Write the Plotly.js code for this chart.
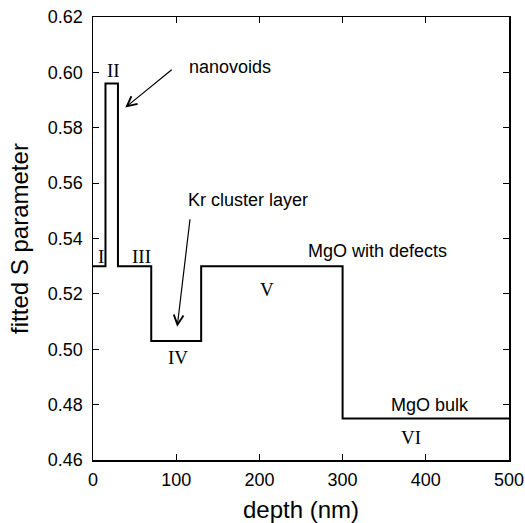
<!DOCTYPE html>
<html>
<head>
<meta charset="utf-8">
<script src="https://cdn.plot.ly/plotly-3.0.1.min.js"></script>
<style>html,body{margin:0;padding:0;background:#fff;}#chart{width:525px;height:523px;}</style>
</head>
<body>
<div id="chart"></div>
<script>
// Layer boundaries (depth, nm) and fitted S parameter per layer
const layerEdges = [0, 15, 30, 70, 130, 300, 500];
const layerS = [0.530, 0.596, 0.530, 0.503, 0.530, 0.475];
const layerNames = ["I", "II", "III", "IV", "V", "VI"];
const layerLabelX = [9.6, 24.4, 58, 102.4, 209, 382];
const layerLabelY = [0.5334, 0.6007, 0.5334, 0.4969, 0.5215, 0.4683];
const noteTexts = ["nanovoids", "Kr cluster layer", "MgO with defects", "MgO bulk"];
const noteX = [164.8, 185.8, 342.2, 404.8];
const noteY = [0.6021, 0.5540, 0.5356, 0.4799];
const arrowTail = [[96.4, 0.6014], [116.8, 0.5475]];
const arrowHead = [[38.8, 0.5873], [101.2, 0.5081]];
const xTicks = [0, 100, 200, 300, 400, 500];
const yTicks = [0.46, 0.48, 0.50, 0.52, 0.54, 0.56, 0.58, 0.60, 0.62];

const stepY = layerS.concat([layerS[layerS.length - 1]]);

const trace = {
  x: layerEdges,
  y: stepY,
  type: 'scatter',
  mode: 'lines',
  line: {shape: 'hv', color: '#000', width: 2},
  hoverinfo: 'skip'
};

const sans = 'Liberation Sans, Arial, sans-serif';
const serif = 'Liberation Serif, Times New Roman, serif';
const annotations = [];
layerNames.forEach((t, i) => annotations.push({
  x: layerLabelX[i], y: layerLabelY[i], xref: 'x', yref: 'y', text: t,
  showarrow: false, font: {family: serif, size: 19, color: '#000'}
}));
noteTexts.forEach((t, i) => annotations.push({
  x: noteX[i], y: noteY[i], xref: 'x', yref: 'y', text: t,
  showarrow: false, font: {family: sans, size: 18, color: '#000'}
}));
arrowHead.forEach((h, i) => annotations.push({
  x: h[0], y: h[1], xref: 'x', yref: 'y', text: '',
  ax: arrowTail[i][0], ay: arrowTail[i][1], axref: 'x', ayref: 'y',
  showarrow: true, arrowhead: 5, arrowsize: 1.6, arrowwidth: 1.2, arrowcolor: '#000', standoff: 0
}));

const axisCommon = {
  showgrid: false, zeroline: false, showline: true, linecolor: '#000', linewidth: 1.5,
  mirror: 'ticks', ticks: 'inside', ticklen: 6, tickwidth: 1.2, tickcolor: '#000',
  tickfont: {family: sans, size: 18, color: '#000'}
};

const layout = {
  width: 525, height: 523,
  margin: {l: 93, r: 16, t: 17, b: 63},
  paper_bgcolor: '#fff', plot_bgcolor: '#fff',
  showlegend: false,
  xaxis: Object.assign({}, axisCommon, {
    range: [0, 500], tickvals: xTicks, ticktext: xTicks.map(String), ticklabelstandoff: 3,
    title: {text: 'depth (nm)', font: {family: sans, size: 24, color: '#000'}, standoff: 14}
  }),
  yaxis: Object.assign({}, axisCommon, {
    range: [0.46, 0.62], tickvals: yTicks, ticktext: yTicks.map(v => v.toFixed(2)), ticklabelstandoff: 5,
    title: {text: 'fitted S parameter', font: {family: sans, size: 24, color: '#000'}, standoff: 12}
  }),
  annotations: annotations
};

Plotly.newPlot('chart', [trace], layout, {staticPlot: true, displayModeBar: false});
</script>
</body>
</html>
